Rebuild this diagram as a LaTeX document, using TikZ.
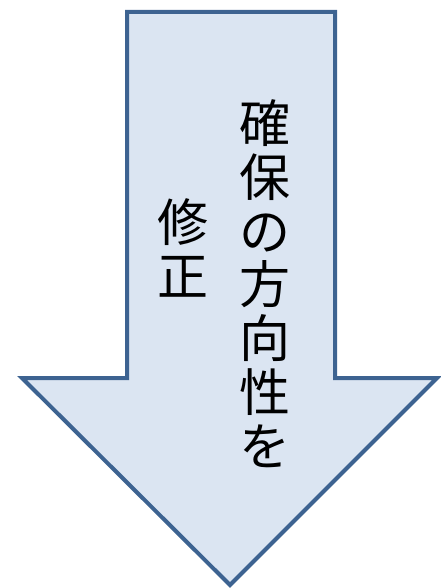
\documentclass[tikz,border=0pt]{standalone}
\usepackage{fontspec}
\usepackage{pgf,tikz}
\usetikzlibrary{arrows}
\newfontfamily\jpfont{Noto Sans CJK JP}
\definecolor{qqzzcc}{rgb}{0.24,0.39,0.57}
\definecolor{ddeeff}{rgb}{0.86,0.90,0.95}
\begin{document}
\begin{tikzpicture}[line cap=round,line join=miter,x=1pt,y=-1pt,
  coltext/.style={inner sep=0pt,align=center,font=\jpfont\fontsize{51}{53.8}\selectfont}]
\useasboundingbox (0,0) rectangle (440,588);
\draw [color=qqzzcc,fill=ddeeff,line width=4pt] (127,12) -- (335,12) -- (335,378) -- (437,378) -- (230,585) -- (22,378) -- (127,378) -- cycle;
\node[coltext] (kakuho) at (265,283.5) {確\\保\\の\\方\\向\\性\\を};
\node[coltext] (shusei) at (183,248) {修\\正};
\end{tikzpicture}
\end{document}
